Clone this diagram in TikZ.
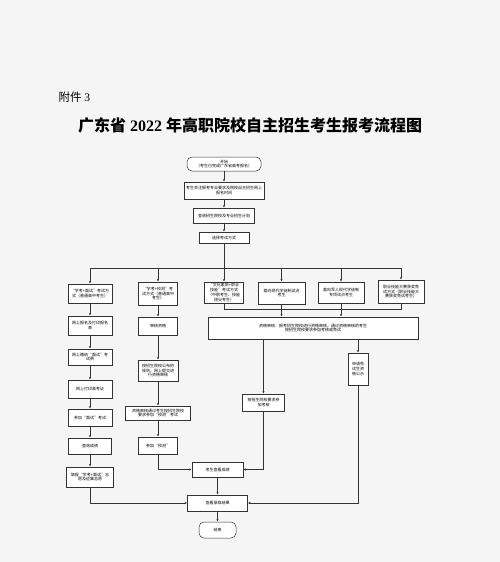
\documentclass[tikz,border=0pt]{standalone}
\usepackage{fontspec}
\setmainfont{Liberation Serif}
\newfontfamily\cjk{Noto Sans CJK SC}
\usetikzlibrary{arrows.meta}
\tikzset{
  kasten/.style={draw=black!80,fill=white,line width=0.5pt,align=center,inner sep=0.5pt,
    font=\cjk\fontsize{4}{4.8}\selectfont},
  rund/.style={kasten,rounded corners=5pt},
  linie/.style={draw=black!80,line width=0.5pt},
  pfeil/.style={linie,-{Latex[length=2.5pt,width=2.2pt]}},
}
\begin{document}
\begin{tikzpicture}[x=1pt,y=-1pt]
    % Hintergrund
    \fill[black!4] (0,0) rectangle (500,562);
    \useasboundingbox (0,0) rectangle (500,562);
    % Kopf
    \node[anchor=west,font=\fontsize{11.5}{12}\selectfont] (anhang) at (55,97) {{\cjk 附件} 3};
    \node[font=\fontsize{16}{18}\selectfont\bfseries] (titel) at (250,125)
      {{\cjk 广东省} 2022 {\cjk 年高职院校自主招生考生报考流程图}};
    % Hauptstrang
    \node[rund,minimum width=74pt,minimum height=14pt] (start) at (224,164) {开始\\（考生已完成广东省高考报名）};
    \node[kasten,minimum width=80pt,minimum height=17pt] (melden) at (224,190.5) {考生关注报考专业要求及院校自主招生网上\\报名时间};
    \node[kasten,minimum width=61pt,minimum height=15pt] (login) at (224,215.5) {查询招生院校及专业招生计划};
    \node[kasten,minimum width=50pt,minimum height=11pt] (wahl) at (224,237.5) {选择考试方式};
    \coordinate (bus) at (224,268);
    \coordinate (bus2) at (224,309);
    %考试方式
    \node[kasten,minimum width=44pt,minimum height=19pt] (modA) at (90,293.5) {“学考+面试”考试方\\式（普通高中考生）};
    \node[kasten,minimum width=39pt,minimum height=23pt] (modB) at (158,293.5) {“学考+校测”考\\试方式（普通高中\\考生）};
    \node[kasten,minimum width=39pt,minimum height=21pt] (modC) at (224,292.5) {“文化素质+职业\\技能”考试方式\\（中职考生、技能\\拔尖考生）};
    \node[kasten,minimum width=47pt,minimum height=22pt] (modD) at (281.5,293) {面向现代学徒制试点\\考生};
    \node[kasten,minimum width=46pt,minimum height=21pt] (modE) at (341,292.5) {面向军人现代学徒制\\专项试点考生};
    \node[kasten,minimum width=46pt,minimum height=23pt] (modF) at (401,291.5) {职业技能大赛获奖免\\试方式（职业技能大\\赛获奖免试考生）};
    % rechts
    \node[kasten,minimum width=210pt,minimum height=22pt] (pruef) at (313,328) {资格审核：报考招生院校进行资格审核，通过资格审核的考生\\按招生院校要求参加考核或免试};
    \node[kasten,minimum width=42pt,minimum height=17pt] (kern) at (263.5,402.5) {按招生院校要求参\\加考核};
    \node[kasten,minimum width=20pt,minimum height=32pt] (publik) at (358,369) {申请免\\试生资\\格公示};
    % links
    \node[kasten,minimum width=44pt,minimum height=19pt] (a2) at (90,325.5) {网上报名及打印报名\\表};
    \node[kasten,minimum width=44pt,minimum height=16pt] (a3) at (90,357) {网上缴纳“面试”考\\试费};
    \node[kasten,minimum width=44pt,minimum height=18pt] (a4) at (90,389) {网上打印准考证};
    \node[kasten,minimum width=44pt,minimum height=17pt] (a5) at (90,417.5) {参加“面试”考试};
    \node[kasten,minimum width=43pt,minimum height=16pt] (a6) at (90,446) {查询成绩};
    \node[kasten,minimum width=47pt,minimum height=20pt] (a7) at (90,477) {填报“学考+面试”志\\愿及征集志愿};
    \node[kasten,minimum width=39pt,minimum height=18pt] (b2) at (158,326) {审核资格};
    \node[kasten,minimum width=40pt,minimum height=21pt] (b3) at (158,370.5) {按招生院校公布的\\规则，网上提交进\\行资格审核};
    \node[kasten,minimum width=65pt,minimum height=14pt] (b4) at (158,413) {资格审核通过考生按招生院校\\要求参加“校测”考试};
    \node[kasten,minimum width=39pt,minimum height=17pt] (b5) at (158,445.5) {参加“校测”};
    % Schluss
    \node[kasten,minimum width=51pt,minimum height=15pt] (score) at (217.5,469.5) {考生查看成绩};
    \node[kasten,minimum width=60pt,minimum height=16pt] (result) at (217.5,503) {查看录取结果};
    \node[rund,minimum width=37pt,minimum height=16pt] (ende) at (217.5,530) {结束};
    % Verbindungen
    \draw[pfeil] (start) -- (melden);
    \draw[pfeil] (melden) -- (login);
    \draw[pfeil] (login) -- (wahl);
    \draw[linie] (wahl) -- (bus);
    \draw[linie] (modA.north|-bus) -- (modF.north|-bus);
    \foreach \m in {A,B,C,D,E,F}{
      \draw[pfeil] (mod\m.north|-bus) -- (mod\m.north);
    }
    \draw[linie] (modC.south) -- (modC.south|-bus2) -- (modF.south|-bus2) -- (modF.south);
    \draw[pfeil] (modD.south) -- (modD.south|-pruef.north);
    \draw[pfeil] (modE.south) -- (modE.south|-pruef.north);
    \draw[pfeil] (kern.north|-pruef.south) -- (kern.north);
    \draw[pfeil] (publik.north|-pruef.south) -- (publik.north);
    \draw[pfeil] (kern.south) |- (score.east);
    \draw[pfeil] (publik.south) |- (result.east);
    \foreach \a/\b in {modA/a2,a2/a3,a3/a4,a4/a5,a5/a6,a6/a7,modB/b2,b2/b3,b3/b4,b4/b5,score/result,result/ende}{
      \draw[pfeil] (\a) -- (\b);
    }
    \draw[pfeil] (a7.south) |- (result.west);
    \draw[pfeil] (b5.south) |- (score.west);
  \end{tikzpicture}
\end{document}
